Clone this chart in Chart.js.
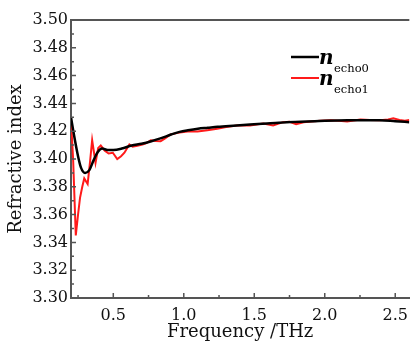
<!DOCTYPE html>
<html>
<head>
<meta charset="utf-8">
<script src="https://cdn.jsdelivr.net/npm/chart.js@4/dist/chart.umd.min.js"></script>
<style>
  html, body { margin: 0; padding: 0; background: #fff; overflow: hidden; }
  #wrap { width: 416px; height: 346px; }
</style>
</head>
<body>
<div id="wrap"><canvas id="chart" width="416" height="346"></canvas></div>
<script>
// echo0 (black)
const freq0 = [0.20, 0.22, 0.25, 0.27, 0.30, 0.33, 0.36, 0.39, 0.42, 0.46, 0.50, 0.56, 0.63, 0.70, 0.77, 0.84, 0.91, 0.97, 1.03, 1.10, 1.17, 1.24, 1.35, 1.47, 1.59, 1.73, 1.93, 2.16, 2.39, 2.50, 2.60];
const index0 = [3.430, 3.418, 3.402, 3.394, 3.390, 3.392, 3.399, 3.405, 3.4075, 3.4065, 3.4065, 3.4075, 3.4097, 3.411, 3.4128, 3.415, 3.4176, 3.4195, 3.4207, 3.4218, 3.4225, 3.4232, 3.424, 3.4248, 3.4255, 3.4265, 3.4272, 3.4279, 3.4279, 3.4272, 3.4265];

// echo1 (red)
const freq1 = [0.20, 0.215, 0.234, 0.25, 0.264, 0.28, 0.294, 0.318, 0.335, 0.350, 0.374, 0.393, 0.411, 0.44, 0.467, 0.497, 0.528, 0.555, 0.579, 0.614, 0.637, 0.670, 0.707, 0.735, 0.766, 0.80, 0.836, 0.87, 0.906, 0.957, 1.027, 1.097, 1.167, 1.237, 1.30, 1.377, 1.47, 1.564, 1.634, 1.704, 1.75, 1.797, 1.85, 1.902, 1.97, 2.042, 2.10, 2.159, 2.253, 2.32, 2.393, 2.45, 2.486, 2.53, 2.568, 2.60];
const index1 = [3.428, 3.400, 3.345, 3.360, 3.372, 3.380, 3.386, 3.382, 3.398, 3.4135, 3.3973, 3.408, 3.4097, 3.406, 3.404, 3.4045, 3.400, 3.402, 3.4045, 3.4104, 3.4088, 3.4095, 3.4104, 3.4115, 3.4135, 3.413, 3.4128, 3.415, 3.4176, 3.4188, 3.4198, 3.4198, 3.4207, 3.4217, 3.423, 3.4241, 3.4241, 3.4255, 3.4241, 3.4265, 3.4268, 3.425, 3.4265, 3.427, 3.4275, 3.4279, 3.4275, 3.427, 3.4284, 3.428, 3.4279, 3.4285, 3.4293, 3.428, 3.4275, 3.428];

const seriesNames = ["echo0", "echo1"];
const xTicks = [0.5, 1.0, 1.5, 2.0, 2.5];
const xMinorTicks = [0.25, 0.75, 1.25, 1.75, 2.25];
const yTicks = [3.30, 3.32, 3.34, 3.36, 3.38, 3.40, 3.42, 3.44, 3.46, 3.48, 3.50];
const yMinorTicks = [3.31, 3.33, 3.35, 3.37, 3.39, 3.41, 3.43, 3.45, 3.47, 3.49];

const axisColor = "#555555";
const serif = "'DejaVu Serif', serif";

function toPoints(xs, ys) {
    return xs.map((x, i) => ({ x: x, y: ys[i] }));
}

// ticks pointing inward + top frame line
const frameTicks = {
    id: "frameTicks",
    afterDraw(chart) {
        const c = chart.ctx;
        const area = chart.chartArea;
        const xs = chart.scales.x;
        const ys = chart.scales.y;
        c.save();
        c.strokeStyle = axisColor;
        c.lineWidth = 1.5;
        c.beginPath();
        xTicks.forEach(v => { let p = xs.getPixelForValue(v); c.moveTo(p, area.bottom); c.lineTo(p, area.bottom - 5); });
        xMinorTicks.forEach(v => { let p = xs.getPixelForValue(v); c.moveTo(p, area.bottom); c.lineTo(p, area.bottom - 3); });
        yTicks.forEach(v => { let p = ys.getPixelForValue(v); c.moveTo(area.left, p); c.lineTo(area.left + 5, p); });
        yMinorTicks.forEach(v => { let p = ys.getPixelForValue(v); c.moveTo(area.left, p); c.lineTo(area.left + 3, p); });
        c.stroke();
        c.lineWidth = 2;
        c.beginPath();
        c.moveTo(area.left, area.top);
        c.lineTo(area.right, area.top);
        c.stroke();
        c.restore();
    }
};

// legend with n + subscript
const subLegend = {
    id: "subLegend",
    afterDraw(chart) {
        const c = chart.ctx;
        const area = chart.chartArea;
        c.save();
        chart.data.datasets.forEach((ds, i) => {
            let y = area.top + 37 + i * 21;
            let x0 = area.left + 220;
            c.strokeStyle = ds.borderColor;
            c.lineWidth = ds.borderWidth;
            c.beginPath();
            c.moveTo(x0, y);
            c.lineTo(x0 + 28, y);
            c.stroke();
            c.fillStyle = "#000";
            c.textBaseline = "alphabetic";
            c.font = "italic bold 20px " + serif;
            c.fillText("n", x0 + 28, y + 7);
            c.font = "11.5px " + serif;
            c.fillText(seriesNames[i], x0 + 43, y + 14.5);
        });
        c.restore();
    }
};

new Chart(document.getElementById("chart"), {
    type: "line",
    data: {
        datasets: [
            {
                label: "n echo0",
                data: toPoints(freq0, index0),
                borderColor: "#000000",
                borderWidth: 2.5,
                pointRadius: 0,
                tension: 0.4,
                cubicInterpolationMode: "monotone"
            },
            {
                label: "n echo1",
                data: toPoints(freq1, index1),
                borderColor: "#ff1a1a",
                borderWidth: 2,
                pointRadius: 0,
                tension: 0
            }
        ]
    },
    plugins: [frameTicks, subLegend],
    options: {
        responsive: false,
        animation: false,
        layout: { padding: { top: 20, right: 1, bottom: 0, left: 0 } },
        plugins: {
            legend: { display: false },
            tooltip: { enabled: false }
        },
        scales: {
            x: {
                type: "linear",
                min: 0.2,
                max: 2.6,
                afterBuildTicks: s => { s.ticks = xTicks.map(v => ({ value: v })); },
                afterFit: s => { s.height = 48; },
                grid: { display: false, drawTicks: false },
                border: { display: true, color: axisColor, width: 2 },
                ticks: {
                    color: "#111",
                    padding: 8,
                    maxRotation: 0,
                    font: { family: serif, size: 16 },
                    callback: v => Number(v).toFixed(1)
                },
                title: {
                    display: true,
                    text: "Frequency /THz",
                    color: "#111",
                    font: { family: serif, size: 18, lineHeight: 1.2 },
                    padding: { top: 0, bottom: 3 }
                }
            },
            y: {
                min: 3.30,
                max: 3.50,
                afterBuildTicks: s => { s.ticks = yTicks.map(v => ({ value: v })); },
                afterFit: s => { s.width = 71; },
                grid: { display: false, drawTicks: false },
                border: { display: true, color: axisColor, width: 2 },
                ticks: {
                    color: "#111",
                    padding: 3,
                    font: { family: serif, size: 16 },
                    callback: v => Number(v).toFixed(2)
                },
                title: {
                    display: true,
                    text: "Refractive index",
                    color: "#111",
                    font: { family: serif, size: 18, lineHeight: 1.2 },
                    padding: { top: 6, bottom: 0 }
                }
            }
        }
    }
});
</script>
</body>
</html>
